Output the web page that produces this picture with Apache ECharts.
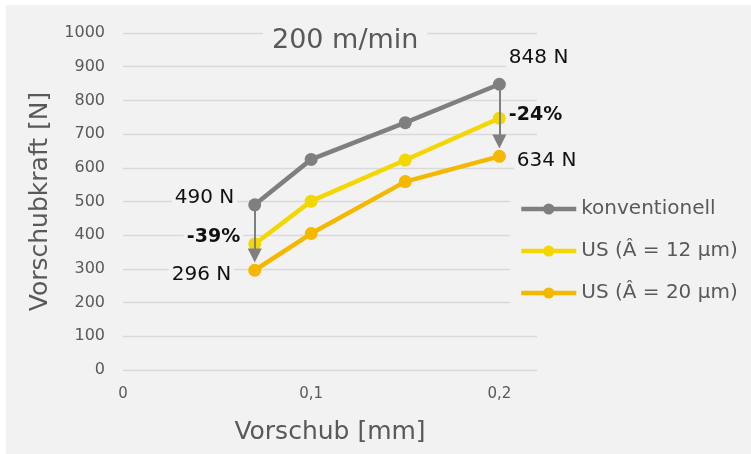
<!DOCTYPE html>
<html>
<head>
<meta charset="utf-8">
<script src="https://cdn.jsdelivr.net/npm/echarts@6/dist/echarts.min.js"></script>
<style>
  html, body { margin: 0; padding: 0; background: #ffffff; }
  #chart { position: absolute; left: 6px; top: 5px; width: 745px; height: 449px; background: #f2f2f2; }
</style>
</head>
<body>
<div id="chart"></div>
<script>
// Feed rate [mm] and thrust force [N]
const feed = [0.07, 0.1, 0.15, 0.2];
const konventionell = [490, 625, 734, 848];
const us12 = [374, 501, 623, 747];
const us20 = [296, 405, 559, 634];
const seriesNames = ['konventionell', 'US (Â = 12 µm)', 'US (Â = 20 µm)'];
const reductionLabels = ['-39%', '-24%'];
const yTicks = [0, 1000, 100];
const xTicks = [0, 0.22, 0.1];

const FONT = 'DejaVu Sans';
const BG = '#f2f2f2';
const GRAY = '#7f7f7f';
const YELLOW = '#f4d700';
const ORANGE = '#f4b800';
const TEXT = '#595959';

const labelBase = {
  show: true,
  fontFamily: FONT,
  fontSize: 20,
  color: '#111111',
  backgroundColor: BG,
  padding: [1, 3]
};

function pts(values, labels) {
  return feed.map((x, i) => {
    const item = { value: [x, values[i]] };
    if (labels[i]) item.label = Object.assign({}, labelBase, labels[i]);
    return item;
  });
}

const last = feed.length - 1;
const konvLabels = {};
konvLabels[0] = { formatter: konventionell[0] + ' N', position: 'left', distance: 11, offset: [0, -7] };
konvLabels[last] = { formatter: konventionell[last] + ' N', position: [13, -20], align: 'left', verticalAlign: 'middle' };
const us12Labels = {};
us12Labels[0] = { formatter: reductionLabels[0], position: 'left', distance: 5, offset: [0, -7], fontWeight: 'bold', fontSize: 19 };
us12Labels[last] = { formatter: reductionLabels[1], position: 'right', distance: 0, offset: [0, -3], fontWeight: 'bold', fontSize: 19 };
const us20Labels = {};
us20Labels[0] = { formatter: us20[0] + ' N', position: 'left', distance: 14, offset: [0, 5] };
us20Labels[last] = { formatter: us20[last] + ' N', position: 'right', distance: 8, offset: [0, 4] };

function lineSeries(name, values, color, labels, extra) {
  return Object.assign({
    name: name,
    type: 'line',
    data: pts(values, labels),
    symbol: 'circle',
    symbolSize: 13,
    lineStyle: { color: color, width: 4.5 },
    itemStyle: { color: color },
    label: { show: false },
    emphasis: { disabled: true },
    animation: false
  }, extra || {});
}

// Arrows from the conventional value down towards the 20 µm value
const arrowStop = 44;
const arrows = {
  silent: true,
  animation: false,
  symbol: ['none', 'triangle'],
  symbolSize: 14,
  label: { show: false },
  lineStyle: { color: GRAY, width: 2, type: 'solid' },
  emphasis: { disabled: true },
  data: [
    [{ coord: [feed[0], konventionell[0]] }, { coord: [feed[0], us20[0] + arrowStop] }],
    [{ coord: [feed[last], konventionell[last]] }, { coord: [feed[last], us20[last] + arrowStop] }]
  ]
};

const chart = echarts.init(document.getElementById('chart'));
chart.setOption({
  animation: false,
  textStyle: { fontFamily: FONT },
  title: {
    text: '200 m/min',
    left: 257,
    top: 20,
    backgroundColor: BG,
    padding: [2, 9],
    textStyle: { fontFamily: FONT, fontSize: 27, fontWeight: 'normal', color: TEXT }
  },
  grid: { left: 117, top: 28, right: 214, bottom: 84 },
  legend: {
    orient: 'vertical',
    left: 504,
    top: 190,
    backgroundColor: BG,
    padding: [4, 4, 4, 9],
    itemWidth: 55,
    itemHeight: 14,
    itemGap: 22,
    lineStyle: { width: 4.5 },
    textStyle: { fontFamily: FONT, fontSize: 20, color: TEXT },
    data: seriesNames
  },
  xAxis: {
    type: 'value',
    min: xTicks[0],
    max: xTicks[1],
    interval: xTicks[2],
    name: 'Vorschub [mm]',
    nameLocation: 'middle',
    nameGap: 50,
    nameTextStyle: { fontFamily: FONT, fontSize: 25, color: TEXT },
    axisLine: { show: false },
    axisTick: { show: false },
    splitLine: { show: false },
    axisLabel: {
      fontFamily: FONT, fontSize: 15, color: TEXT, margin: 17,
      showMaxLabel: false,
      formatter: v => String(+v.toFixed(2)).replace('.', ',')
    }
  },
  yAxis: {
    type: 'value',
    min: yTicks[0],
    max: yTicks[1],
    interval: yTicks[2],
    name: 'Vorschubkraft [N]',
    nameLocation: 'middle',
    nameGap: 70,
    nameTextStyle: { fontFamily: FONT, fontSize: 25, color: TEXT },
    axisLine: { show: false },
    axisTick: { show: false },
    splitLine: { lineStyle: { color: '#d9d9d9', width: 1.3 } },
    axisLabel: { fontFamily: FONT, fontSize: 16, color: TEXT, margin: 18, formatter: v => String(v) }
  },
  series: [
    lineSeries(seriesNames[0], konventionell, GRAY, konvLabels, { markLine: arrows }),
    lineSeries(seriesNames[1], us12, YELLOW, us12Labels),
    lineSeries(seriesNames[2], us20, ORANGE, us20Labels)
  ]
});
</script>
</body>
</html>
